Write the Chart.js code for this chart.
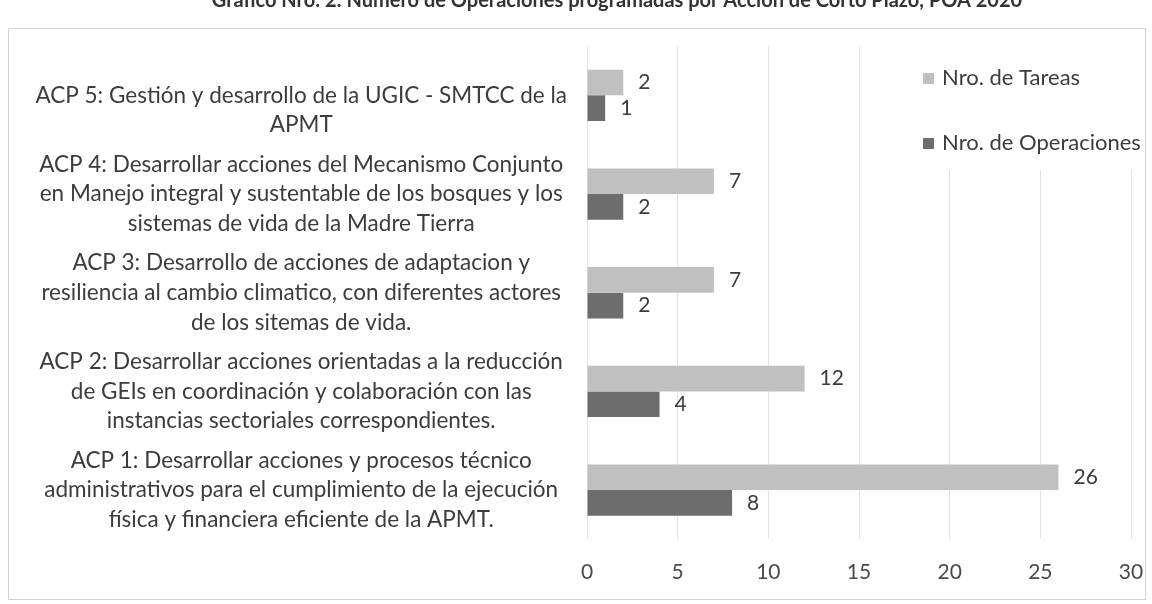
<!DOCTYPE html>
<html>
<head>
<meta charset="utf-8">
<script src="https://cdn.jsdelivr.net/npm/chart.js@4.4.1/dist/chart.umd.min.js"></script>
<style>
    html, body { margin: 0; padding: 0; background: #fff; overflow: hidden; }
    #wrap { position: relative; width: 1152px; height: 624px; margin-top: -20px; }
</style>
</head>
<body>
<div id="wrap"><canvas id="myChart" width="1152" height="624"></canvas></div>
<script>
const titleText = 'Gráfico Nro. 2: Número de Operaciones programadas por Acción de Corto Plazo, POA 2020';

const categories = [
    ['', 'ACP 5: Gestión y desarrollo de la UGIC - SMTCC de la', 'APMT'],
    ['ACP 4: Desarrollar acciones del Mecanismo Conjunto', 'en Manejo integral y sustentable de los bosques y los', 'sistemas de vida de la Madre Tierra'],
    ['ACP 3: Desarrollo de acciones de adaptacion y', 'resiliencia al cambio climatico, con diferentes actores', 'de los sitemas de vida.'],
    ['ACP 2: Desarrollar acciones orientadas a la reducción', 'de GEIs en coordinación y colaboración con las', 'instancias sectoriales correspondientes.'],
    ['ACP 1: Desarrollar acciones y procesos técnico', 'administrativos para el cumplimiento de la ejecución', 'física y financiera eficiente de la APMT.']
];

const tareas = [2, 7, 7, 12, 26];
const operaciones = [1, 2, 2, 4, 8];

const xTicks = [0, 5, 10, 15, 20, 25, 30];

const font = 'Lato';
const textColor = '#3c3c3c';

// marco gris claro y titulo (cortado arriba como en el original)
const framePlugin = {
    id: 'frame',
    beforeDraw: (chart) => {
        const c = chart.ctx;
        c.save();
        c.fillStyle = '#fff';
        c.fillRect(0, 0, chart.width, chart.height);
        c.strokeStyle = '#d4d4d4';
        c.lineWidth = 1;
        c.strokeRect(8.5, 48.5, 1137, 571);

        c.font = 'bold 20px ' + font;
        c.fillStyle = '#333';
        c.textAlign = 'center';
        c.textBaseline = 'alphabetic';
        c.fillText(titleText, 617, 27);
        c.restore();
    }
};

// etiquetas de valor y leyenda a la derecha
const labelsPlugin = {
    id: 'valueLabels',
    afterDatasetsDraw: (chart) => {
        const c = chart.ctx;
        c.save();
        c.font = '21px ' + font;
        c.fillStyle = textColor;
        c.textBaseline = 'middle';
        c.textAlign = 'left';
        chart.data.datasets.forEach((ds, i) => {
            chart.getDatasetMeta(i).data.forEach((bar, j) => {
                c.fillText(String(ds.data[j]), bar.x + 15, bar.y);
            });
        });

        // fondo de la leyenda tapa las lineas de la grilla
        c.fillStyle = '#fff';
        c.fillRect(890, chart.chartArea.top - 2, 250, 192 - chart.chartArea.top);

        const items = [98, 163];
        c.font = '22px ' + font;
        chart.data.datasets.forEach((ds, i) => {
            c.fillStyle = ds.backgroundColor;
            c.fillRect(923, items[i] - 5, 11, 11);
            c.fillStyle = textColor;
            c.fillText(ds.label, 942, items[i]);
        });
        c.restore();
    }
};

new Chart(document.getElementById('myChart'), {
    type: 'bar',
    data: {
        labels: categories,
        datasets: [{
            label: 'Nro. de Tareas',
            data: tareas,
            backgroundColor: '#c0c0c0',
            categoryPercentage: 0.52,
            barPercentage: 1
        }, {
            label: 'Nro. de Operaciones',
            data: operaciones,
            backgroundColor: '#6d6d6d',
            categoryPercentage: 0.52,
            barPercentage: 1
        }]
    },
    options: {
        indexAxis: 'y',
        responsive: false,
        animation: false,
        layout: { padding: { top: 66, right: 21, bottom: 0, left: 0 } },
        scales: {
            x: {
                min: 0,
                max: 30,
                afterBuildTicks: (scale) => {
                    scale.ticks = xTicks.map(v => ({ value: v }));
                },
                afterFit: (scale) => { scale.height = 53; },
                grid: { color: '#e4e4e4', tickColor: 'rgba(0,0,0,0)', tickLength: 12 },
                border: { display: false },
                ticks: {
                    padding: 8,
                    color: '#4a4a4a',
                    font: { family: font, size: 21 }
                }
            },
            y: {
                afterFit: (scale) => { scale.width = 587; },
                grid: { display: false, drawTicks: false },
                border: { display: false },
                ticks: {
                    padding: 20,
                    crossAlign: 'center',
                    color: textColor,
                    font: { family: font, size: 22.5, lineHeight: 1.32 }
                }
            }
        },
        plugins: {
            legend: { display: false },
            tooltip: { enabled: false },
            title: { display: false }
        }
    },
    plugins: [framePlugin, labelsPlugin]
});
</script>
</body>
</html>
